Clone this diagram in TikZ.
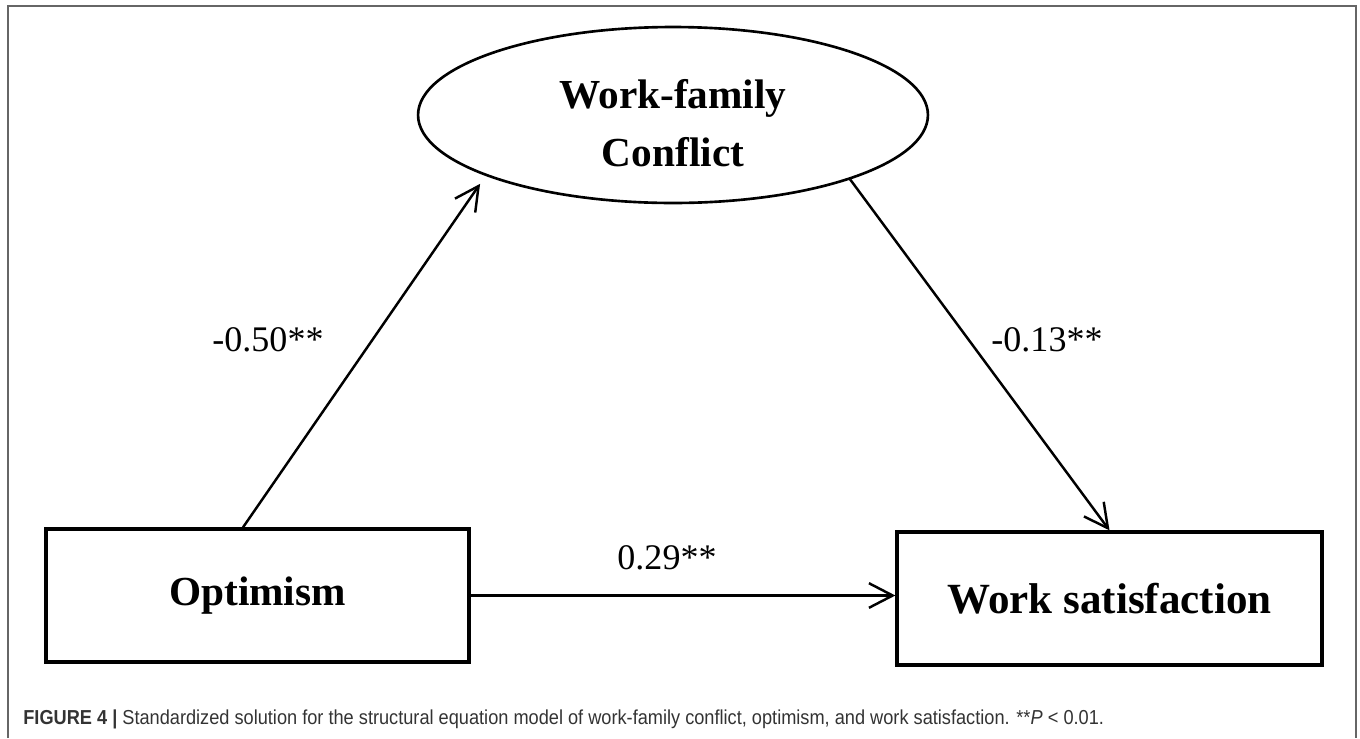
\documentclass[tikz,border=0pt]{standalone}
\usepackage{fontspec}
\setmainfont{Liberation Serif}
\newfontfamily\capfont[FakeStretch=0.9]{Liberation Sans}
\usetikzlibrary{arrows.meta,calc,shapes.geometric}

\begin{document}
\begin{tikzpicture}[x=0.02cm,y=-0.02cm,
    varbox/.style={draw,line width=1.9pt,minimum width=8.46cm,minimum height=2.66cm,inner sep=0pt,
      font=\bfseries\fontsize{23.5}{28}\selectfont},
    latent/.style={draw,ellipse,line width=1.5pt,minimum width=10.2cm,minimum height=3.52cm,inner sep=0pt},
    effect/.style={line width=1.4pt,-{Straight Barb[length=13.5pt,width=14pt,line width=1.4pt]}},
    coef/.style={font=\fontsize{20.5}{24}\selectfont}]
  \useasboundingbox (0,0) rectangle (1360,738);
  % frame
  \draw[black!60,line width=0.8pt] (8,738) -- (8,6) -- (1356,6) -- (1356,738);

  % variables
  \node[latent] (wfc) at (673,115) {};
  \node[align=center,font=\bfseries\fontsize{23.5}{33}\selectfont] (wfclabel) at (673,123) {Work-family\\Conflict};
  \node[varbox] (opt) at (257.5,595.5) {Optimism};
  \node[varbox,minimum width=8.5cm,font=\bfseries\fontsize{24.5}{30}\selectfont] (ws) at (1109.5,598.5) {Work satisfaction};

  % paths
  \draw[effect,shorten >=5.5pt] ($(opt.north)+(-14.5,0)$) -- (wfc.198);
  \draw[effect] (wfc.340) -- (ws.north);
  \draw[effect] (opt.east) -- (opt.east -| ws.west);

  \node[coef] (c1) at (268,340) {-0.50**};
  \node[coef] (c2) at (1047,340) {-0.13**};
  \node[coef] (c3) at (667,558) {0.29**};

  % caption
  \node[anchor=base west,inner sep=0pt,text=black!80,font=\capfont\fontsize{11.5}{14}\selectfont] (cap) at (23,724)
    {\textbf{FIGURE 4 |} Standardized solution for the structural equation model of work-family conflict, optimism, and work satisfaction. **\textit{P} < 0.01.};
\end{tikzpicture}
\end{document}
